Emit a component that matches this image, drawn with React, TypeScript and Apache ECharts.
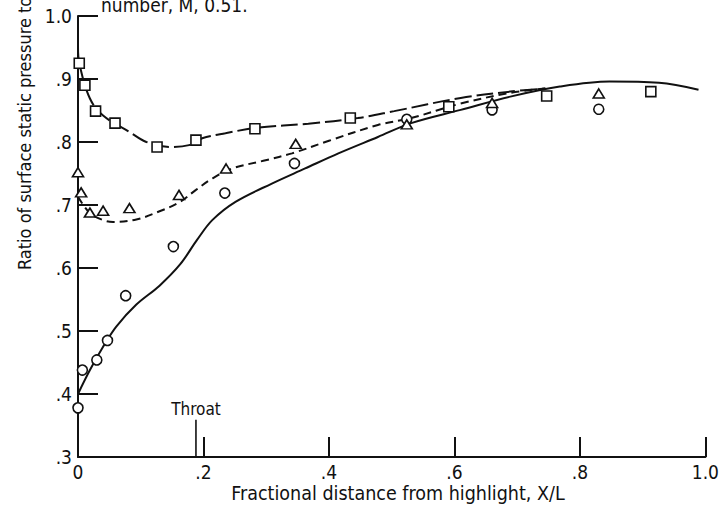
import React, { useEffect, useRef } from "react";
import * as echarts from "echarts";

// Measured points
const circleX = [0.0, 0.007, 0.030, 0.047, 0.076, 0.152, 0.234, 0.345, 0.524, 0.660, 0.830];
const circleY = [0.378, 0.438, 0.454, 0.485, 0.556, 0.634, 0.719, 0.766, 0.836, 0.851, 0.852];

const triX = [0.0, 0.005, 0.019, 0.040, 0.082, 0.161, 0.236, 0.347, 0.524, 0.660, 0.830];
const triY = [0.752, 0.720, 0.688, 0.691, 0.695, 0.716, 0.758, 0.797, 0.828, 0.862, 0.877];

const sqX = [0.002, 0.011, 0.028, 0.059, 0.126, 0.188, 0.282, 0.434, 0.591, 0.747, 0.913];
const sqY = [0.925, 0.890, 0.849, 0.830, 0.792, 0.803, 0.821, 0.838, 0.856, 0.873, 0.880];

// Faired curves
const solidX = [0, 0.019, 0.04, 0.061, 0.093, 0.130, 0.163, 0.190, 0.214, 0.251, 0.309, 0.362, 0.415, 0.478, 0.531, 0.610, 0.689, 0.768, 0.847, 0.926, 0.989];
const solidY = [0.400, 0.438, 0.475, 0.507, 0.542, 0.572, 0.606, 0.645, 0.676, 0.705, 0.734, 0.758, 0.782, 0.808, 0.830, 0.851, 0.872, 0.888, 0.896, 0.894, 0.883];

const shortDashX = [0, 0.019, 0.04, 0.056, 0.093, 0.130, 0.161, 0.188, 0.214, 0.246, 0.299, 0.341, 0.400, 0.478, 0.531, 0.610, 0.689, 0.745];
const shortDashY = [0.713, 0.687, 0.676, 0.673, 0.677, 0.690, 0.704, 0.724, 0.742, 0.758, 0.771, 0.782, 0.802, 0.827, 0.838, 0.861, 0.878, 0.885];

const longDashX = [0, 0.002, 0.019, 0.04, 0.082, 0.109, 0.146, 0.177, 0.198, 0.235, 0.288, 0.367, 0.446, 0.504, 0.610, 0.689, 0.745];
const longDashY = [0.951, 0.925, 0.869, 0.842, 0.816, 0.800, 0.792, 0.795, 0.806, 0.814, 0.823, 0.829, 0.838, 0.849, 0.870, 0.880, 0.885];

const throatX = [0.188, 0.188];
const throatY = [0.3, 0.359];

const xTickLabels = ["0", ".2", ".4", ".6", ".8", "1.0"];
const yTickLabels = [".3", ".4", ".5", ".6", ".7", ".8", ".9", "1.0"];

const xTitle = "Fractional distance from highlight, X/L";
const yTitle = "Ratio of surface static pressure to free-stream total pressure";
const topText = "number, M, 0.51.";
const throatText = "Throat";

const FONT = '"DejaVu Sans Condensed", "Liberation Sans Narrow", "DejaVu Sans", sans-serif';
const INK = "#111";

const zip = (xs: number[], ys: number[]) => xs.map((x, i) => [x, ys[i]]);

export default function App() {
  const ref = useRef<HTMLDivElement>(null);
  useEffect(() => {
    if (!ref.current) return;
    const chart = echarts.init(ref.current, null, { renderer: "svg" });
    const marker = (symbol: string, size: number | number[]) => ({
      type: "scatter",
      symbol,
      symbolSize: size,
      itemStyle: { color: "#fff", borderColor: INK, borderWidth: 1.6, opacity: 1 },
      z: 5,
    });
    chart.setOption({
      animation: false,
      backgroundColor: "#fff",
      grid: { left: 78, right: 12, top: 16, bottom: 52 },
      xAxis: {
        type: "value",
        min: 0,
        max: 1,
        interval: 0.2,
        splitLine: { show: false },
        axisLine: { show: true, lineStyle: { color: INK, width: 2 } },
        axisTick: { show: true, inside: true, length: 20, lineStyle: { color: INK, width: 2 } },
        axisLabel: {
          margin: 5,
          color: INK,
          fontSize: 19,
          fontFamily: FONT,
          formatter: (v: number) => xTickLabels[Math.round(v / 0.2)] ?? "",
        },
      },
      yAxis: {
        type: "value",
        min: 0.3,
        max: 1.0,
        interval: 0.1,
        splitLine: { show: false },
        axisLine: { show: true, lineStyle: { color: INK, width: 2 } },
        axisTick: { show: true, inside: true, length: 20, lineStyle: { color: INK, width: 2 } },
        axisLabel: {
          margin: 6,
          color: INK,
          fontSize: 19,
          fontFamily: FONT,
          formatter: (v: number) => yTickLabels[Math.round((v - 0.3) / 0.1)] ?? "",
        },
      },
      graphic: [
        {
          type: "text",
          x: 24,
          y: 270,
          rotation: Math.PI / 2,
          style: {
            text: yTitle,
            fill: INK,
            font: `18px ${FONT}`,
            textAlign: "left",
            textVerticalAlign: "middle",
          },
        },
        {
          type: "text",
          x: 398,
          y: 493,
          style: {
            text: xTitle,
            fill: INK,
            font: `19.5px ${FONT}`,
            textAlign: "center",
            textVerticalAlign: "middle",
          },
        },
        {
          type: "text",
          x: 101,
          y: 14,
          style: {
            text: topText,
            fill: INK,
            font: `19px ${FONT}`,
            textAlign: "left",
            textVerticalAlign: "bottom",
          },
        },
      ],
      series: [
        {
          type: "line",
          data: zip(solidX, solidY),
          smooth: 0.35,
          showSymbol: false,
          lineStyle: { color: INK, width: 2 },
        },
        {
          type: "line",
          data: zip(shortDashX, shortDashY),
          smooth: 0.35,
          showSymbol: false,
          lineStyle: { color: INK, width: 2, type: [8, 5] },
        },
        {
          type: "line",
          data: zip(longDashX, longDashY),
          smooth: 0.35,
          showSymbol: false,
          lineStyle: { color: INK, width: 2, type: [17, 5] },
        },
        {
          type: "line",
          data: zip(throatX, throatY),
          showSymbol: false,
          lineStyle: { color: INK, width: 1.6 },
        },
        {
          type: "scatter",
          data: [[throatX[1], throatY[1]]],
          symbolSize: 1,
          itemStyle: { color: "rgba(0,0,0,0)", opacity: 1 },
          label: {
            show: true,
            position: "top",
            distance: 2,
            formatter: throatText,
            color: INK,
            opacity: 1,
            fontSize: 17,
            fontFamily: FONT,
          },
        },
        { ...marker("circle", 10), data: zip(circleX, circleY) },
        { ...marker("triangle", [11, 9]), data: zip(triX, triY) },
        { ...marker("rect", 10), data: zip(sqX, sqY) },
      ],
    });
    return () => chart.dispose();
  }, []);
  return (
    <div
      ref={ref}
      style={{ position: "fixed", left: 0, top: 0, width: 722, height: 509, background: "#fff" }}
    />
  );
}
